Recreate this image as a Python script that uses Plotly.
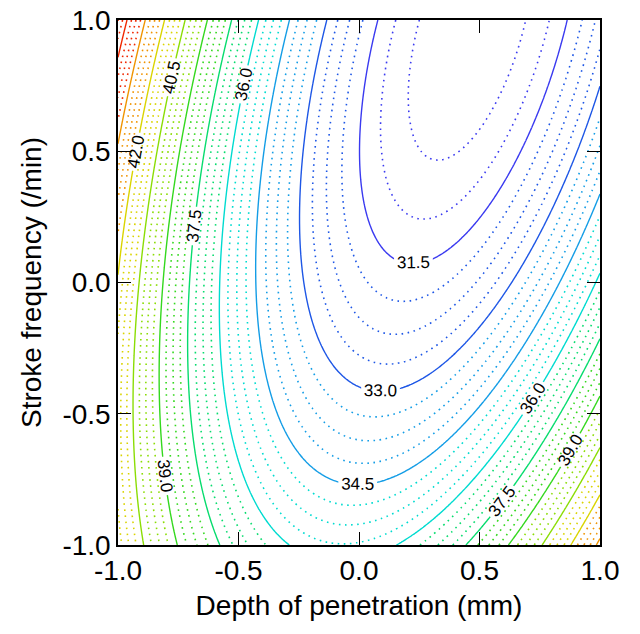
import numpy as np
import plotly.graph_objects as go

# Fitted quadratic response-surface coefficients
# z = b0 + b1*x + b2*y + b12*x*y + b11*x^2 + b22*y^2
coef_names = ["b0", "b1", "b2", "b12", "b11", "b22"]
coef_values = [31.97, -2.87, -1.85, -3.82, 7.10, 1.86]

x_range = [-1.0, 1.0]
y_range = [-1.0, 1.0]
tick_vals = [-1.0, -0.5, 0.0, 0.5, 1.0]
tick_text = ["-1.0", "-0.5", "0.0", "0.5", "1.0"]

major_step = 1.5          # solid, labelled contours
minor_starts = [30.375, 30.75, 31.125]   # dotted contours between them
major_start = 31.5
level_end = 46.5

x_title = "Depth of penetration (mm)"
y_title = "Stroke frequency (/min)"

b = dict(zip(coef_names, coef_values))
xs = np.linspace(x_range[0], x_range[1], 241)
ys = np.linspace(y_range[0], y_range[1], 241)
X, Y = np.meshgrid(xs, ys)
Z = (b["b0"] + b["b1"] * X + b["b2"] * Y + b["b12"] * X * Y
     + b["b11"] * X ** 2 + b["b22"] * Y ** 2)

zmin, zmax = 30.0, 45.0
colorscale = [
    [0.0, "#3a3af0"],
    [0.1, "#1e50e6"],
    [0.2, "#1a8ce6"],
    [0.3, "#00d8e8"],
    [0.4, "#00e0a0"],
    [0.5, "#10d830"],
    [0.6, "#50d810"],
    [0.7, "#a8e000"],
    [0.8, "#e8d000"],
    [0.9, "#f08c00"],
    [1.0, "#f02800"],
]

FONT = "Liberation Sans, Arial, sans-serif"

fig = go.Figure()
for s in minor_starts:
    fig.add_trace(go.Contour(
        x=xs, y=ys, z=Z, zmin=zmin, zmax=zmax, zauto=False,
        colorscale=colorscale, showscale=False, hoverinfo="skip",
        contours=dict(start=s, end=level_end, size=major_step,
                      coloring="lines", showlabels=False),
        line=dict(width=1.6, dash="1.6px,4.5px"),
    ))
fig.add_trace(go.Contour(
    x=xs, y=ys, z=Z, zmin=zmin, zmax=zmax, zauto=False,
    colorscale=colorscale, showscale=False, hoverinfo="skip",
    contours=dict(start=major_start, end=level_end, size=major_step,
                  coloring="lines", showlabels=True,
                  labelfont=dict(size=17, color="black", family=FONT),
                  labelformat=".1f"),
    line=dict(width=1.4),
))

axis_common = dict(
    tickvals=tick_vals, ticktext=tick_text, ticks="inside", ticklen=13,
    tickwidth=1.4, tickcolor="black", showline=True, linecolor="black",
    linewidth=1.5, mirror="ticks", showgrid=False, zeroline=False,
    tickfont=dict(size=28, color="black", family=FONT), automargin=False,
    ticklabeloverflow="allow",
)
fig.update_xaxes(range=x_range,
                 title=dict(text=x_title, font=dict(size=28, color="black", family=FONT), standoff=10),
                 **axis_common)
fig.update_yaxes(range=y_range,
                 title=dict(text=y_title, font=dict(size=28, color="black", family=FONT), standoff=13),
                 **axis_common)

fig.update_layout(
    width=640, height=634,
    margin=dict(l=118, r=40, t=20, b=89),
    paper_bgcolor="white", plot_bgcolor="white",
    font=dict(family=FONT, color="black"),
    showlegend=False,
)
# remove the default 8px page margin so the figure sits at the window origin
fig.write_html("out.html", config={"displayModeBar": False},
               post_script="document.body.style.margin='0';")
